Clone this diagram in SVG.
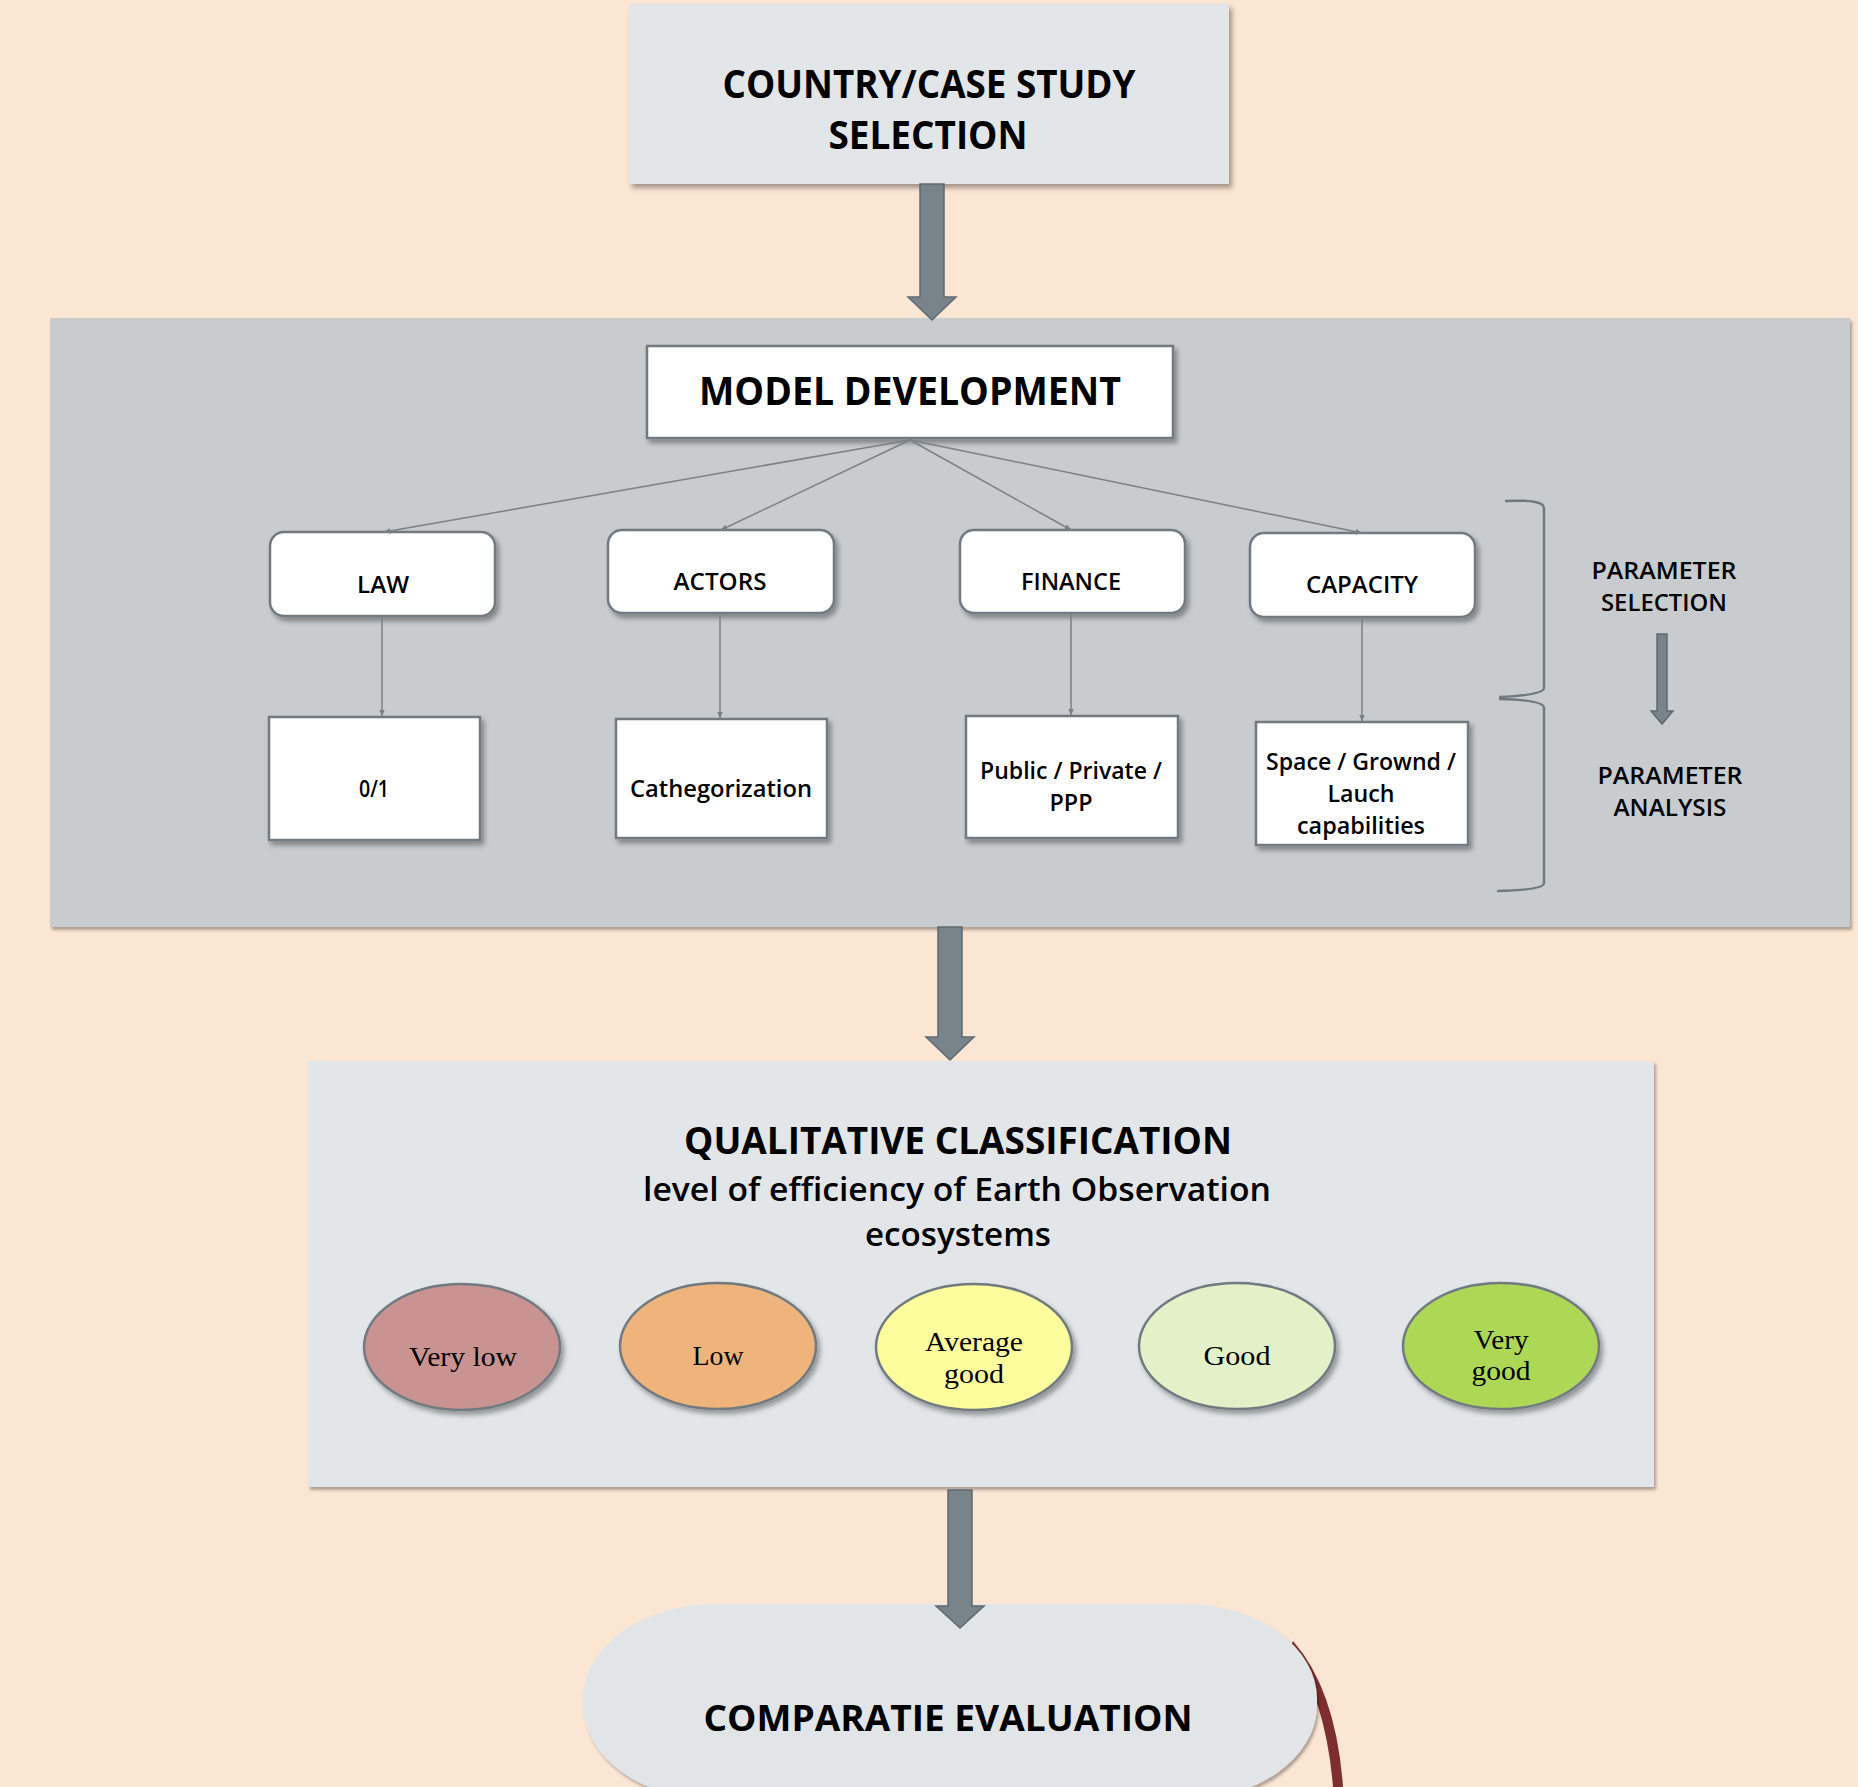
<svg xmlns="http://www.w3.org/2000/svg" width="1858" height="1787" viewBox="0 0 1858 1787">
<defs>
<filter id="sh" x="-10%" y="-10%" width="125%" height="130%">
<feDropShadow dx="3" dy="4" stdDeviation="2.5" flood-color="#000" flood-opacity="0.35"/>
</filter>
<filter id="shs" x="-5%" y="-5%" width="115%" height="120%">
<feDropShadow dx="2" dy="3" stdDeviation="1.5" flood-color="#000" flood-opacity="0.3"/>
</filter>
<marker id="ah" viewBox="0 0 10 10" refX="9" refY="5" markerWidth="7" markerHeight="7" orient="auto" markerUnits="userSpaceOnUse">
<path d="M0,1 L10,5 L0,9 z" fill="#7A8186"/>
</marker>
</defs>
<style>
.bold{font-family:"Open Sans","Liberation Sans",sans-serif;font-weight:700;fill:#000;text-anchor:middle}
.semi{font-family:"Open Sans","Liberation Sans",sans-serif;font-weight:600;fill:#000;text-anchor:middle}
.serif{font-family:"Liberation Serif","DejaVu Serif",serif;fill:#000;text-anchor:middle}
.box{fill:#fff;stroke:#6F7A80;stroke-width:2.5}
.lbox{fill:#E2E6E8}
.conn{stroke:#7A8186;stroke-width:1.5;fill:none}
.big{fill:#78838A;stroke:#5F6A70;stroke-width:1.5}
.ell{stroke:#6F7A80;stroke-width:2.5}
.brace{fill:none;stroke:#6F7A80;stroke-width:2.5}
</style>
<rect x="0" y="0" width="1858" height="1787" fill="#FBE5D3"/>

<g id="model-panel">
<rect x="50" y="318" width="1800" height="609" fill="#C8CCCF" filter="url(#shs)"/>
</g>

<g id="country-selection">
<rect class="lbox" x="629" y="4" width="600" height="180" filter="url(#sh)"/>
<text class="bold" font-size="40" x="929" y="98" textLength="413" lengthAdjust="spacingAndGlyphs">COUNTRY/CASE STUDY</text>
<text class="bold" font-size="40" x="928" y="149" textLength="199" lengthAdjust="spacingAndGlyphs">SELECTION</text>
</g>

<g id="model-development">
<rect class="box" x="647" y="346" width="526" height="92" filter="url(#sh)"/>
<text class="bold" font-size="39" x="910" y="405" textLength="422" lengthAdjust="spacingAndGlyphs">MODEL DEVELOPMENT</text>
</g>

<g id="law">
<rect class="box" x="270" y="532" width="225" height="84" rx="14" filter="url(#sh)"/>
<text class="semi" font-size="24" x="383" y="593" textLength="52" lengthAdjust="spacingAndGlyphs">LAW</text>
</g>
<g id="actors">
<rect class="box" x="608" y="530" width="226" height="83" rx="14" filter="url(#sh)"/>
<text class="semi" font-size="24" x="720" y="590" textLength="93" lengthAdjust="spacingAndGlyphs">ACTORS</text>
</g>
<g id="finance">
<rect class="box" x="960" y="530" width="225" height="83" rx="14" filter="url(#sh)"/>
<text class="semi" font-size="24" x="1071" y="590" textLength="100" lengthAdjust="spacingAndGlyphs">FINANCE</text>
</g>
<g id="capacity">
<rect class="box" x="1250" y="533" width="225" height="84" rx="14" filter="url(#sh)"/>
<text class="semi" font-size="24" x="1362" y="593" textLength="112" lengthAdjust="spacingAndGlyphs">CAPACITY</text>
</g>

<g id="law-value">
<rect class="box" x="269" y="717" width="211" height="123" filter="url(#sh)"/>
<text class="semi" font-size="24" x="374" y="797" textLength="30" lengthAdjust="spacingAndGlyphs">0/1</text>
</g>
<g id="actors-value">
<rect class="box" x="616" y="719" width="211" height="119" filter="url(#sh)"/>
<text class="semi" font-size="24" x="721" y="797" textLength="182" lengthAdjust="spacingAndGlyphs">Cathegorization</text>
</g>
<g id="finance-value">
<rect class="box" x="966" y="716" width="212" height="122" filter="url(#sh)"/>
<text class="semi" font-size="24" x="1071" y="779" textLength="182" lengthAdjust="spacingAndGlyphs">Public / Private /</text>
<text class="semi" font-size="24" x="1071" y="811" textLength="43" lengthAdjust="spacingAndGlyphs">PPP</text>
</g>
<g id="capacity-value">
<rect class="box" x="1256" y="722" width="212" height="123" filter="url(#sh)"/>
<text class="semi" font-size="24" x="1361" y="770" textLength="190" lengthAdjust="spacingAndGlyphs">Space / Grownd /</text>
<text class="semi" font-size="24" x="1361" y="802" textLength="67" lengthAdjust="spacingAndGlyphs">Lauch</text>
<text class="semi" font-size="24" x="1361" y="834" textLength="128" lengthAdjust="spacingAndGlyphs">capabilities</text>
</g>

<g id="parameter-labels">
<path class="brace" d="M1505,501 Q1544,499 1544,508 L1544,688 Q1544,695 1499,697"/>
<path class="brace" d="M1499,699 Q1544,700 1544,708 L1544,883 Q1544,890 1497,891"/>
<text class="semi" font-size="24" x="1664" y="579" textLength="145" lengthAdjust="spacingAndGlyphs">PARAMETER</text>
<text class="semi" font-size="24" x="1664" y="611" textLength="126" lengthAdjust="spacingAndGlyphs">SELECTION</text>
<path class="big" d="M1657,634 L1667,634 L1667,711 L1673,711 L1662,724 L1651,711 L1657,711 z"/>
<text class="semi" font-size="24" x="1670" y="784" textLength="145" lengthAdjust="spacingAndGlyphs">PARAMETER</text>
<text class="semi" font-size="24" x="1670" y="816" textLength="113" lengthAdjust="spacingAndGlyphs">ANALYSIS</text>
</g>

<g id="qualitative-classification">
<rect class="lbox" x="308" y="1061" width="1346" height="426" filter="url(#shs)"/>
<text class="bold" font-size="38" x="958" y="1154" textLength="548" lengthAdjust="spacingAndGlyphs">QUALITATIVE CLASSIFICATION</text>
<text class="semi" font-size="33" x="957" y="1201" textLength="628" lengthAdjust="spacingAndGlyphs">level of efficiency of Earth Observation</text>
<text class="semi" font-size="33" x="958" y="1246" textLength="186" lengthAdjust="spacingAndGlyphs">ecosystems</text>
</g>

<g id="very-low">
<ellipse class="ell" cx="462" cy="1347" rx="98" ry="63" fill="#C89391" filter="url(#sh)"/>
<text class="serif" font-size="28" x="463" y="1366" textLength="108" lengthAdjust="spacingAndGlyphs">Very low</text>
</g>
<g id="low">
<ellipse class="ell" cx="718" cy="1346" rx="98" ry="63" fill="#EFB37B" filter="url(#sh)"/>
<text class="serif" font-size="28" x="718" y="1365" textLength="51" lengthAdjust="spacingAndGlyphs">Low</text>
</g>
<g id="average-good">
<ellipse class="ell" cx="974" cy="1347" rx="98" ry="63" fill="#FDFD9E" filter="url(#sh)"/>
<text class="serif" font-size="28" x="974" y="1351" textLength="98" lengthAdjust="spacingAndGlyphs">Average</text>
<text class="serif" font-size="28" x="974" y="1383" textLength="60" lengthAdjust="spacingAndGlyphs">good</text>
</g>
<g id="good">
<ellipse class="ell" cx="1237" cy="1346" rx="98" ry="63" fill="#E3F1C8" filter="url(#sh)"/>
<text class="serif" font-size="28" x="1237" y="1365" textLength="67" lengthAdjust="spacingAndGlyphs">Good</text>
</g>
<g id="very-good">
<ellipse class="ell" cx="1501" cy="1346" rx="98" ry="63" fill="#ADD855" filter="url(#sh)"/>
<text class="serif" font-size="28" x="1501" y="1349" textLength="55" lengthAdjust="spacingAndGlyphs">Very</text>
<text class="serif" font-size="28" x="1501" y="1380" textLength="59" lengthAdjust="spacingAndGlyphs">good</text>
</g>

<g id="comparative-evaluation">
<path d="M1293,1641 Q1336,1690 1343,1787 L1333,1787 Q1326,1700 1290,1648 z" fill="#7D2E2E"/>
<rect x="583" y="1604" width="734" height="196" rx="133" ry="95" fill="#E2E5E7" filter="url(#shs)"/>
<text class="bold" font-size="36" x="948" y="1731" textLength="489" lengthAdjust="spacingAndGlyphs">COMPARATIE EVALUATION</text>
</g>

<g id="connectors">
<path class="big" d="M920,184 L944,184 L944,297 L956,297 L932,320 L908,297 L920,297 z"/>
<path class="big" d="M938,927 L962,927 L962,1037 L974,1037 L950,1060 L926,1037 L938,1037 z"/>
<path class="big" d="M948,1490 L972,1490 L972,1606 L984,1606 L960,1628 L936,1606 L948,1606 z"/>
<line class="conn" x1="910" y1="440" x2="384" y2="532" marker-end="url(#ah)"/>
<line class="conn" x1="910" y1="440" x2="721" y2="530" marker-end="url(#ah)"/>
<line class="conn" x1="910" y1="440" x2="1071" y2="530" marker-end="url(#ah)"/>
<line class="conn" x1="910" y1="440" x2="1362" y2="533" marker-end="url(#ah)"/>
<line class="conn" x1="382" y1="617" x2="382" y2="716" marker-end="url(#ah)"/>
<line class="conn" x1="720" y1="614" x2="720" y2="718" marker-end="url(#ah)"/>
<line class="conn" x1="1071" y1="614" x2="1071" y2="715" marker-end="url(#ah)"/>
<line class="conn" x1="1362" y1="618" x2="1362" y2="721" marker-end="url(#ah)"/>
</g>
</svg>
